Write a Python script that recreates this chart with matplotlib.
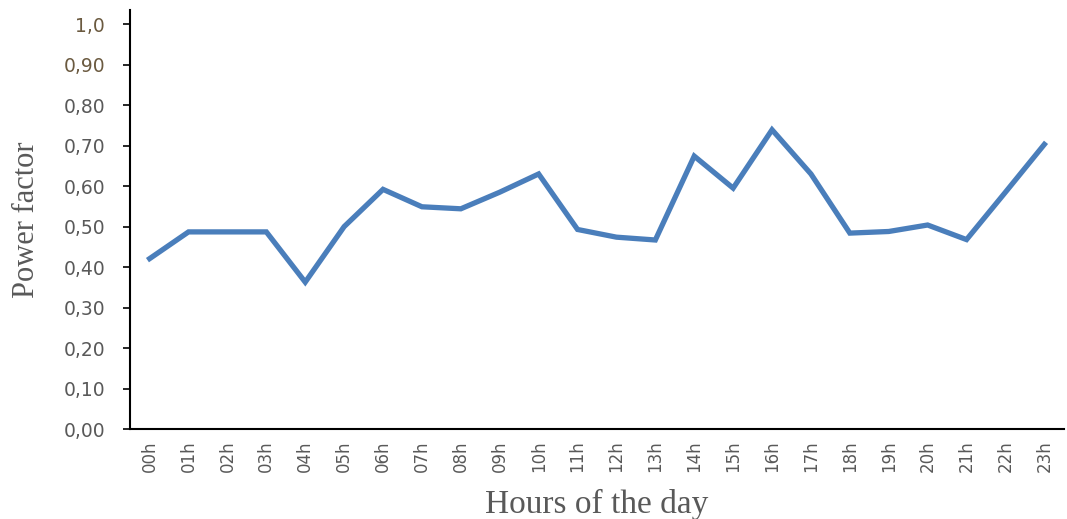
import matplotlib
matplotlib.use("Agg")
import matplotlib.pyplot as plt

# hourly power factor
hours = ["00h", "01h", "02h", "03h", "04h", "05h", "06h", "07h", "08h", "09h", "10h", "11h",
         "12h", "13h", "14h", "15h", "16h", "17h", "18h", "19h", "20h", "21h", "22h", "23h"]
power_factor = [0.421, 0.487, 0.487, 0.487, 0.363, 0.50, 0.592, 0.549, 0.544, 0.585, 0.63, 0.493,
                0.474, 0.467, 0.674, 0.595, 0.739, 0.63, 0.484, 0.488, 0.504, 0.468, 0.585, 0.703]
y_ticks = [0.0, 0.1, 0.2, 0.3, 0.4, 0.5, 0.6, 0.7, 0.8, 0.9, 1.0]
y_labels = ["0,00", "0,10", "0,20", "0,30", "0,40", "0,50", "0,60", "0,70", "0,80", "0,90", "1,0"]

fig = plt.figure(figsize=(10.67, 5.19), dpi=100)
ax = fig.add_axes([0.122, 0.173, 0.875, 0.808])

ax.plot(range(len(hours)), power_factor, color="#4a7ebb", linewidth=3.8, solid_joinstyle="miter")

ax.set_xlim(-0.5, len(hours) - 0.5)
ax.set_ylim(0, 1.035)

ax.set_yticks(y_ticks)
ax.set_yticklabels(y_labels, fontsize=13.5, color="#595959")
for lbl in ax.get_yticklabels()[-2:]:
    lbl.set_color("#6b5a40")
ax.set_xticks(range(len(hours)))
ax.set_xticklabels(hours, rotation=90, fontsize=12, color="#595959")

ax.tick_params(axis="y", direction="out", length=5, width=1.2, color="black", pad=13)
ax.tick_params(axis="x", direction="out", length=0, pad=8)

for side in ["top", "right"]:
    ax.spines[side].set_visible(False)
ax.spines["left"].set_linewidth(1.5)
ax.spines["bottom"].set_linewidth(1.5)

ax.set_xlabel("Hours of the day", fontsize=24, family="Liberation Serif", color="#595959", labelpad=12)
ax.set_ylabel("Power factor", fontsize=22, family="Liberation Serif", color="#595959", labelpad=16)

fig.savefig("out.png", dpi=100)
